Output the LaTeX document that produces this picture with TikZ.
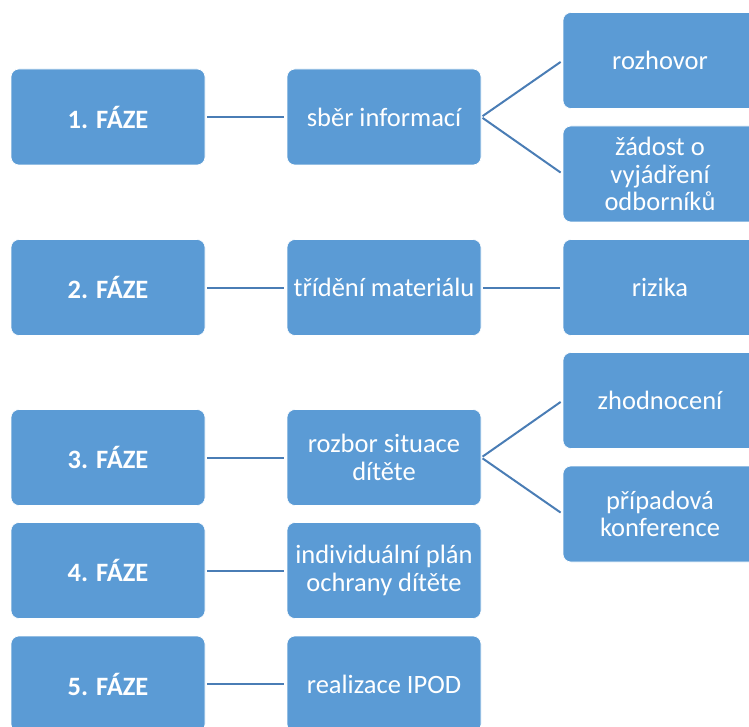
\documentclass[tikz,border=0pt]{standalone}
\usepackage{fontspec}
\setmainfont{Carlito}
\definecolor{boxblue}{HTML}{5B9BD5}
\definecolor{lineblue}{HTML}{4A7DB5}
\begin{document}
\begin{tikzpicture}[x=1pt,y=-1pt,
  box/.style={rectangle, rounded corners=8pt, fill=boxblue, draw=white, line width=0.6pt,
    minimum width=194pt, minimum height=96pt, text=white, align=center, inner sep=2pt,
    font=\fontsize{26.5}{27.5}\selectfont},
  phase/.style={box, font=\fontsize{26.5}{27.5}\selectfont\bfseries},
  conn/.style={draw=lineblue, line width=2pt, shorten <=1.5pt, shorten >=2.5pt}]
\useasboundingbox (0,0) rectangle (749,727);
% column 1
\node[phase] (f1) at (108,117) {1. FÁZE};
\node[phase] (f2) at (108,287.5) {2. FÁZE};
\node[phase] (f3) at (108,457.5) {3. FÁZE};
\node[phase] (f4) at (108,570.5) {4. FÁZE};
\node[phase] (f5) at (108,684) {5. FÁZE};
% column 2
\node[box] (s1) at (384,117) {sběr informací};
\node[box] (s2) at (384,287.5) {třídění materiálu};
\node[box] (s3) at (384,457.5) {rozbor situace\\dítěte};
\node[box] (s4) at (384,570.5) {individuální plán\\ochrany dítěte};
\node[box] (s5) at (384,684) {realizace IPOD};
% column 3
\node[box] (r1) at (660,60.5) {rozhovor};
\node[box] (r2) at (660,174) {žádost o\\vyjádření\\odborníků};
\node[box] (r3) at (660,287.5) {rizika};
\node[box] (r4) at (660,400.5) {zhodnocení};
\node[box] (r5) at (660,514) {případová\\konference};
% connectors
\draw[conn] (f1.east) -- (s1.west);
\draw[conn] (f2.east) -- (s2.west);
\draw[conn] (f3.east) -- (s3.west);
\draw[conn] (f4.east) -- (s4.west);
\draw[conn] (f5.east) -- (s5.west);
\draw[conn] (s1.east) -- (r1.west);
\draw[conn] (s1.east) -- (r2.west);
\draw[conn] (s2.east) -- (r3.west);
\draw[conn] (s3.east) -- (r4.west);
\draw[conn] (s3.east) -- (r5.west);
\end{tikzpicture}
\end{document}
